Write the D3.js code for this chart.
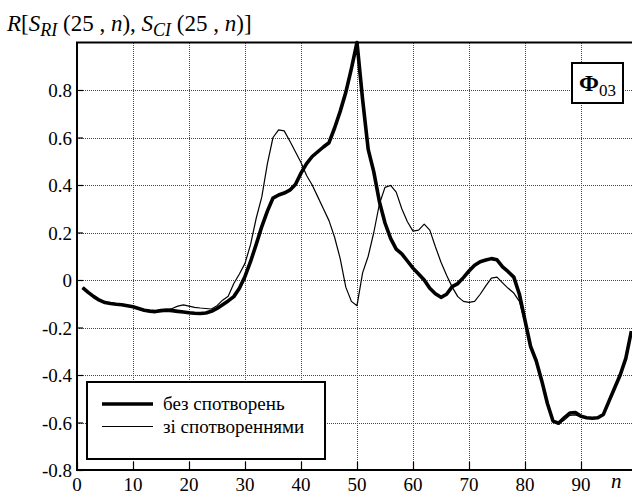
<!DOCTYPE html>
<html>
<head>
<meta charset="utf-8">
<script src="https://cdn.jsdelivr.net/npm/d3@7/dist/d3.min.js"></script>
<style>
  html, body { margin: 0; padding: 0; background: #fff; }
  #wrap { position: relative; width: 632px; height: 495px; overflow: hidden;
          font-family: 'Liberation Serif', 'Times New Roman', serif; color: #000; }
  #wrap svg { position: absolute; left: 0; top: 0; display: block; }
  .lbl { position: absolute; white-space: nowrap; }
  .sub { position: relative; }
</style>
</head>
<body>
<div id="wrap"><svg id="chart" width="632" height="495"></svg></div>
<script>
// Lag index n
const nValues = d3.range(1, 100);

// Correlation without distortions
const seriesClean = [
  -0.032, -0.052, -0.070, -0.085, -0.095, -0.099, -0.102, -0.104, -0.108, -0.113,
  -0.120, -0.127, -0.131, -0.133, -0.129, -0.127, -0.129, -0.132, -0.135, -0.138,
  -0.140, -0.141, -0.139, -0.132, -0.120, -0.104, -0.088, -0.070, -0.035, 0.015,
  0.078, 0.150, 0.225, 0.290, 0.345, 0.358, 0.366, 0.378, 0.402, 0.450,
  0.490, 0.520, 0.540, 0.560, 0.578, 0.640, 0.710, 0.790, 0.890, 1.000,
  0.760, 0.550, 0.455, 0.330, 0.240, 0.175, 0.130, 0.110, 0.080, 0.050,
  0.025, 0.000, -0.035, -0.058, -0.073, -0.060, -0.028, -0.015, 0.010, 0.038,
  0.062, 0.077, 0.084, 0.090, 0.085, 0.055, 0.035, 0.012, -0.060, -0.170,
  -0.280, -0.340, -0.425, -0.520, -0.594, -0.603, -0.580, -0.560, -0.558, -0.574,
  -0.580, -0.582, -0.580, -0.566, -0.510, -0.455, -0.400, -0.330, -0.215
];

// Correlation with distortions
const seriesDistorted = [
  -0.032, -0.052, -0.070, -0.085, -0.095, -0.099, -0.102, -0.104, -0.108, -0.113,
  -0.120, -0.127, -0.131, -0.133, -0.129, -0.126, -0.120, -0.110, -0.105, -0.110,
  -0.115, -0.118, -0.120, -0.122, -0.108, -0.085, -0.068, -0.015, 0.025, 0.070,
  0.150, 0.260, 0.350, 0.490, 0.600, 0.632, 0.628, 0.585, 0.540, 0.495,
  0.440, 0.400, 0.350, 0.300, 0.250, 0.180, 0.090, -0.030, -0.090, -0.108,
  0.030, 0.100, 0.200, 0.320, 0.390, 0.398, 0.370, 0.300, 0.245, 0.206,
  0.210, 0.235, 0.210, 0.140, 0.075, 0.020, -0.030, -0.070, -0.090, -0.094,
  -0.090, -0.060, -0.025, 0.008, 0.012, -0.012, -0.035, -0.055, -0.090, -0.180,
  -0.280, -0.340, -0.425, -0.520, -0.594, -0.603, -0.590, -0.570, -0.568, -0.577,
  -0.580, -0.582, -0.580, -0.566, -0.510, -0.455, -0.400, -0.330, -0.215
];

const xTicks = [0, 10, 20, 30, 40, 50, 60, 70, 80, 90];
const yTicks = [-0.8, -0.6, -0.4, -0.2, 0, 0.2, 0.4, 0.6, 0.8];
const yTickLabels = ["-0.8", "-0.6", "-0.4", "-0.2", "0", "0.2", "0.4", "0.6", "0.8"];
const gridY = [-0.6, -0.4, -0.2, 0, 0.2, 0.4, 0.6, 0.8];
const legendLabels = ["без спотворень", "зі спотвореннями"];

const W = 632;
const svg = d3.select("#chart");
const wrap = d3.select("#wrap");
const plotLeft = 77, plotRight = 637, plotTop = 42.5, plotBottom = 470;

const x = d3.scaleLinear().domain([0, 100]).range([plotLeft, plotRight]);
const y = d3.scaleLinear().domain([-0.8, 1.0]).range([plotBottom, plotTop]);

// Place an HTML text label by its baseline; anchor: start | middle | end
function label(sel, size, baselineY, anchorX, anchor) {
  sel.attr("class", "lbl")
    .style("font-size", size + "px")
    .style("line-height", size + "px")
    .style("top", d => (baselineY(d) - 0.8375 * size) + "px");
  if (anchor === "end") sel.style("right", d => (W - anchorX(d)) + "px");
  else sel.style("left", d => anchorX(d) + "px");
  if (anchor === "middle") sel.style("transform", "translateX(-50%)");
  return sel;
}

// Dotted grid
const grid = svg.append("g").attr("stroke", "#444").attr("stroke-width", 1)
  .attr("stroke-dasharray", "1,1").attr("shape-rendering", "crispEdges");
grid.selectAll("line.v").data(xTicks.slice(1)).join("line").attr("class", "v")
  .attr("x1", d => Math.round(x(d)) + 0.5).attr("x2", d => Math.round(x(d)) + 0.5)
  .attr("y1", plotTop).attr("y2", plotBottom);
grid.selectAll("line.h").data(gridY).join("line").attr("class", "h")
  .attr("y1", d => Math.round(y(d)) + 0.5).attr("y2", d => Math.round(y(d)) + 0.5)
  .attr("x1", plotLeft).attr("x2", plotRight);

// Axes with inward ticks
const xAxis = svg.append("g").attr("transform", `translate(0,${plotBottom})`)
  .call(d3.axisTop(x).tickValues(xTicks).tickSize(8).tickFormat(""));
const yAxis = svg.append("g").attr("transform", `translate(${plotLeft},0)`)
  .call(d3.axisRight(y).tickValues(yTicks).tickSize(6).tickFormat(""));
[xAxis, yAxis].forEach(g => {
  g.select(".domain").remove();
  g.selectAll(".tick text").remove();
  g.selectAll(".tick line").attr("stroke", "#000").attr("stroke-width", 1.2);
});

// Frame (left, top, bottom)
svg.append("path")
  .attr("d", `M${plotRight},${plotTop}H${plotLeft}V${plotBottom}H${plotRight}`)
  .attr("fill", "none").attr("stroke", "#000").attr("stroke-width", 2);

// Curves
const line = d3.line().x((d, i) => x(nValues[i])).y(d => y(d));
svg.append("path").datum(seriesDistorted).attr("d", line)
  .attr("fill", "none").attr("stroke", "#000").attr("stroke-width", 1.2)
  .attr("stroke-linejoin", "round");
svg.append("path").datum(seriesClean).attr("d", line)
  .attr("fill", "none").attr("stroke", "#000").attr("stroke-width", 3.6)
  .attr("stroke-linejoin", "round");

// Label box Φ03
svg.append("rect").attr("x", 572).attr("y", 63).attr("width", 51).attr("height", 40)
  .attr("fill", "#fff").attr("stroke", "#000").attr("stroke-width", 2);

// Legend
const legend = svg.append("g");
legend.append("rect").attr("x", 87).attr("y", 382).attr("width", 238).attr("height", 77)
  .attr("fill", "#fff").attr("stroke", "#000").attr("stroke-width", 2);
const legendWidths = [3.6, 1.2];
legend.selectAll("line").data(legendLabels).join("line")
  .attr("x1", 102).attr("x2", 153)
  .attr("y1", (d, i) => 404 + i * 22.5).attr("y2", (d, i) => 404 + i * 22.5)
  .attr("stroke", "#000").attr("stroke-width", (d, i) => legendWidths[i]);

// Text layer
label(wrap.selectAll("div.xt").data(xTicks).join("div").text(d => d),
  19, () => 491, d => x(d), "middle");
label(wrap.selectAll("div.yt").data(yTicks).join("div").text((d, i) => yTickLabels[i]),
  19, d => y(d) + 7, () => 72, "end");
label(wrap.append("div").datum(0).style("font-style", "italic").text("n"),
  21, () => 489, () => 611, "start");
label(wrap.selectAll("div.lg").data(legendLabels).join("div").text(d => d),
  19, d => 410 + legendLabels.indexOf(d) * 22.5, () => 163, "start");

const sub = t => `<span class="sub" style="font-size:18px;top:5px">${t}</span>`;
label(wrap.append("div").datum(0).html(
  `<i>R</i>[<i>S</i>${sub("<i>RI</i>")} (25 , <i>n</i>), <i>S</i>${sub("<i>CI</i>")} (25 , <i>n</i>)]`),
  23, () => 31, () => 7, "start");
label(wrap.append("div").datum(0).html(
  `<b>Φ</b><span class="sub" style="font-size:17px;top:5px">03</span>`),
  24, () => 91, () => 579, "start");
</script>
</body>
</html>
